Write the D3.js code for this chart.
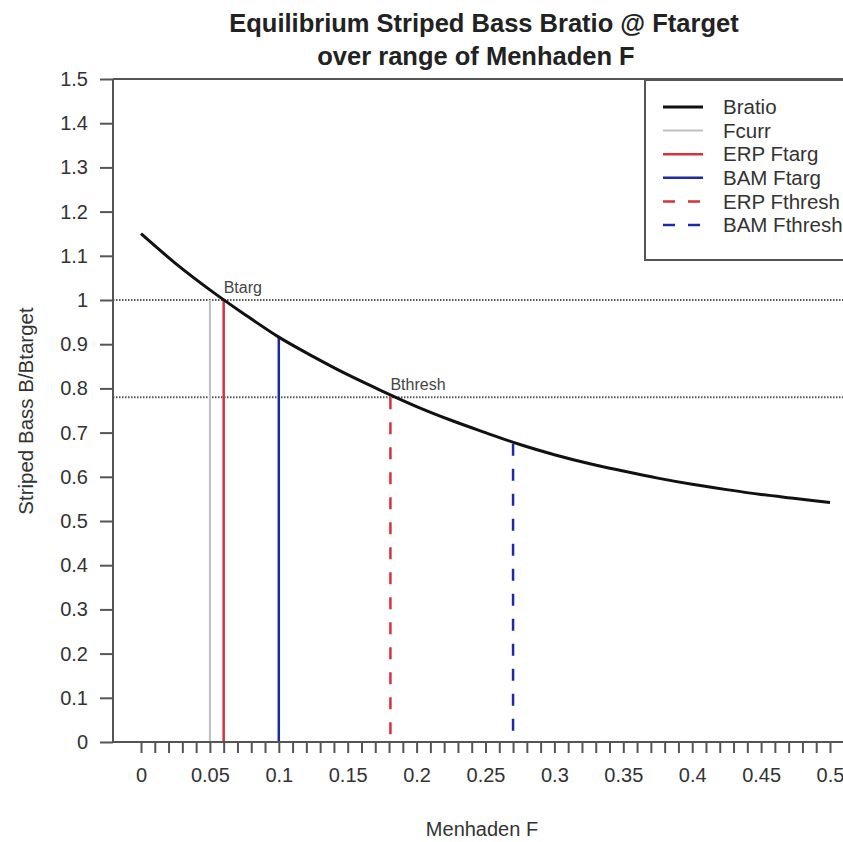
<!DOCTYPE html>
<html>
<head>
<meta charset="utf-8">
<script src="https://cdn.jsdelivr.net/npm/d3@7"></script>
<style>
  body { margin: 0; background: #fff; }
  svg { font-family: "Liberation Sans", Arial, sans-serif; }
</style>
</head>
<body>
<div id="chart"></div>
<script>
// Menhaden F values and the equilibrium striped bass B/Btarget
var menhadenF = [0, 0.025, 0.05, 0.075, 0.1, 0.125, 0.15, 0.175, 0.2, 0.225, 0.25,
                 0.275, 0.3, 0.325, 0.35, 0.375, 0.4, 0.425, 0.45, 0.475, 0.5];
var bratio = [1.15, 1.083, 1.023, 0.968, 0.916, 0.872, 0.831, 0.794, 0.759, 0.728, 0.700,
              0.673, 0.650, 0.630, 0.613, 0.597, 0.583, 0.571, 0.560, 0.551, 0.542];

// reference points
var refNames = ["Fcurr", "ERP Ftarg", "BAM Ftarg", "ERP Fthresh", "BAM Fthresh"];
var refF = [0.05, 0.06, 0.1, 0.181, 0.27];
var refTop = [1.0, 1.0, 0.916, 0.78, 0.675];

var bLevels = [1.0, 0.78];
var bLabels = ["Btarg", "Bthresh"];
var bLabelF = [0.06, 0.181];

var yTicks = [0, 0.1, 0.2, 0.3, 0.4, 0.5, 0.6, 0.7, 0.8, 0.9, 1, 1.1, 1.2, 1.3, 1.4, 1.5];
var xLabels = [0, 0.05, 0.1, 0.15, 0.2, 0.25, 0.3, 0.35, 0.4, 0.45, 0.5];
var xMinor = d3.range(0, 51).map(function(i) { return i / 100; });

var legendNames = ["Bratio", "Fcurr", "ERP Ftarg", "BAM Ftarg", "ERP Fthresh", "BAM Fthresh"];

// styles
var styles = {
  "Bratio":      { color: "#111", width: 3, dash: null },
  "Fcurr":       { color: "#bfbfbf", width: 2, dash: null },
  "ERP Ftarg":   { color: "#d8303c", width: 2.5, dash: null },
  "BAM Ftarg":   { color: "#1c2aa6", width: 2.5, dash: null },
  "ERP Fthresh": { color: "#d8303c", width: 2.5, dash: "12,13" },
  "BAM Fthresh": { color: "#1c2aa6", width: 2.5, dash: "12,13" }
};

var width = 843, height = 842;
var axisColor = "#555";
var textColor = "#333";

var svg = d3.select("#chart").append("svg")
  .attr("width", width)
  .attr("height", height);

var x = d3.scaleLinear().domain([0, 0.5]).range([141, 830]);
var y = d3.scaleLinear().domain([0, 1.5]).range([742, 79]);
var axisX = 113;

// title
svg.append("text")
  .attr("x", 484).attr("y", 32)
  .attr("text-anchor", "middle")
  .style("font-size", "25.5px").style("font-weight", "bold").style("fill", "#222")
  .text("Equilibrium Striped Bass Bratio @ Ftarget");
svg.append("text")
  .attr("x", 476).attr("y", 65)
  .attr("text-anchor", "middle")
  .style("font-size", "25.5px").style("font-weight", "bold").style("fill", "#222")
  .text("over range of Menhaden F");

// dotted reference levels
svg.selectAll(".blevel")
  .data(bLevels)
  .enter()
  .append("line")
  .attr("class", "blevel")
  .attr("x1", axisX).attr("x2", width)
  .attr("y1", function(d) { return y(d); })
  .attr("y2", function(d) { return y(d); })
  .attr("stroke", "#555")
  .attr("stroke-width", 2)
  .attr("stroke-dasharray", "1.5,1.5");

// vertical reference lines
var refData = refNames.map(function(n, i) { return { name: n, f: refF[i], top: refTop[i] }; });
svg.selectAll(".ref")
  .data(refData)
  .enter()
  .append("line")
  .attr("class", "ref")
  .attr("x1", function(d) { return x(d.f); })
  .attr("x2", function(d) { return x(d.f); })
  .attr("y1", function(d) { return y(d.top); })
  .attr("y2", y(0))
  .attr("stroke", function(d) { return styles[d.name].color; })
  .attr("stroke-width", function(d) { return styles[d.name].width; })
  .attr("stroke-dasharray", function(d) { return styles[d.name].dash; });

// curve
var curveData = menhadenF.map(function(f, i) { return [f, bratio[i]]; });
var line = d3.line()
  .x(function(d) { return x(d[0]); })
  .y(function(d) { return y(d[1]); })
  .curve(d3.curveMonotoneX);
svg.append("path")
  .datum(curveData)
  .attr("d", line)
  .attr("fill", "none")
  .attr("stroke", styles["Bratio"].color)
  .attr("stroke-width", styles["Bratio"].width);

// Btarg / Bthresh labels
svg.selectAll(".blabel")
  .data(bLabels)
  .enter()
  .append("text")
  .attr("class", "blabel")
  .attr("x", function(d, i) { return x(bLabelF[i]); })
  .attr("y", function(d, i) { return y(bLevels[i]) - 7; })
  .style("font-size", "16px").style("fill", "#444")
  .text(function(d) { return d; });

// axis lines
svg.append("line")
  .attr("x1", axisX).attr("x2", axisX)
  .attr("y1", y(1.5)).attr("y2", y(0))
  .attr("stroke", axisColor).attr("stroke-width", 2);
svg.append("line")
  .attr("x1", axisX).attr("x2", width)
  .attr("y1", y(0)).attr("y2", y(0))
  .attr("stroke", axisColor).attr("stroke-width", 2);
svg.append("line")
  .attr("x1", axisX).attr("x2", width)
  .attr("y1", y(1.5)).attr("y2", y(1.5))
  .attr("stroke", axisColor).attr("stroke-width", 2);

// y axis
var yAxis = svg.append("g")
  .attr("transform", "translate(" + axisX + ",0)")
  .call(d3.axisLeft(y).tickValues(yTicks).tickSize(13).tickPadding(12)
    .tickFormat(function(d) { return String(d); }));
yAxis.select(".domain").remove();
yAxis.selectAll("line").attr("stroke", axisColor).attr("stroke-width", 2);
yAxis.selectAll("text").style("font-size", "20px").style("fill", textColor)
  .style("font-family", "'Liberation Sans', Arial, sans-serif");

// x axis minor ticks
var xAxisMinor = svg.append("g")
  .attr("transform", "translate(0," + y(0) + ")")
  .call(d3.axisBottom(x).tickValues(xMinor).tickSize(11).tickFormat(""));
xAxisMinor.select(".domain").remove();
xAxisMinor.selectAll("line").attr("stroke", axisColor).attr("stroke-width", 2);

// x axis labels
var xAxis = svg.append("g")
  .attr("transform", "translate(0," + y(0) + ")")
  .call(d3.axisBottom(x).tickValues(xLabels).tickSize(0).tickPadding(26)
    .tickFormat(function(d) { return String(d); }));
xAxis.select(".domain").remove();
xAxis.selectAll("text").style("font-size", "20px").style("fill", textColor)
  .style("font-family", "'Liberation Sans', Arial, sans-serif");

// axis titles
svg.append("text")
  .attr("transform", "translate(33,411) rotate(-90)")
  .attr("text-anchor", "middle")
  .style("font-size", "20.5px").style("fill", textColor)
  .text("Striped Bass B/Btarget");
svg.append("text")
  .attr("x", 482).attr("y", 836)
  .attr("text-anchor", "middle")
  .style("font-size", "20px").style("fill", textColor)
  .text("Menhaden F");

// legend
svg.append("rect")
  .attr("x", 645).attr("y", 80)
  .attr("width", 220).attr("height", 180)
  .attr("fill", "#fff")
  .attr("stroke", axisColor).attr("stroke-width", 2);

var legend = svg.selectAll(".legend")
  .data(legendNames)
  .enter()
  .append("g")
  .attr("class", "legend")
  .attr("transform", function(d, i) { return "translate(663," + (107 + i * 23.6) + ")"; });

legend.append("line")
  .attr("x1", 0).attr("x2", 40)
  .attr("y1", 0).attr("y2", 0)
  .attr("stroke", function(d) { return styles[d].color; })
  .attr("stroke-width", function(d) { return styles[d].width; })
  .attr("stroke-dasharray", function(d) { return styles[d].dash; });

legend.append("text")
  .attr("x", 60)
  .attr("dy", "0.35em")
  .style("font-size", "20.5px").style("fill", textColor)
  .text(function(d) { return d; });
</script>
</body>
</html>
